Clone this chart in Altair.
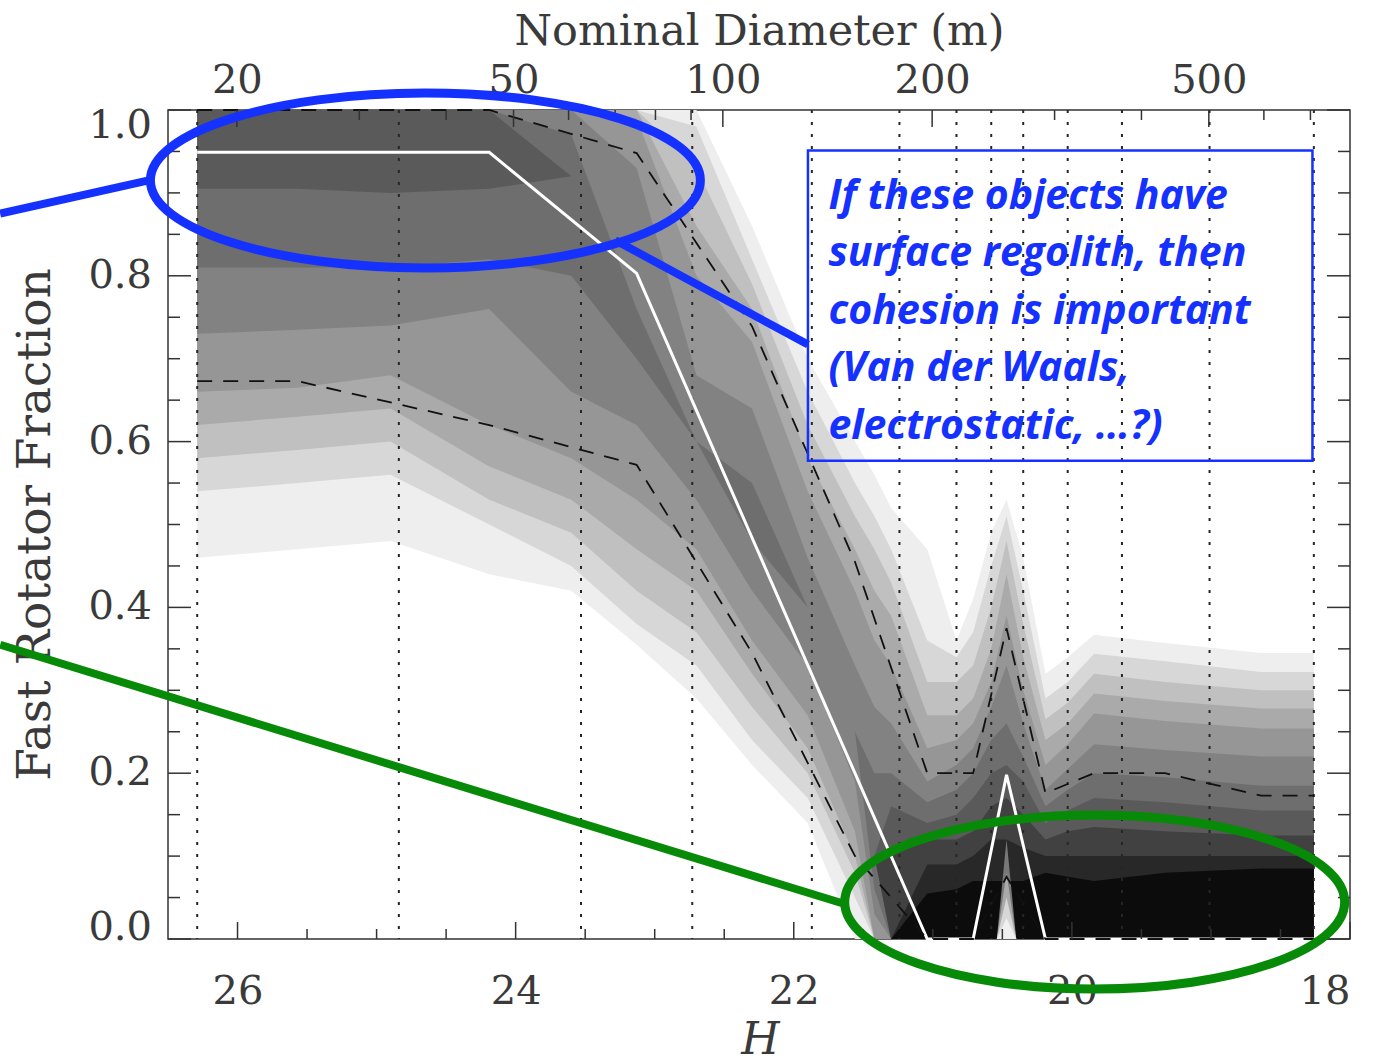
import math
import altair as alt
import pandas as pd

# ---------------- values ----------------
# H nodes at which the shaded density (filled contours) was read
DENS_H = [26.29, 25.57, 24.90, 24.19, 23.60, 23.13, 22.70, 22.30, 21.90, 21.56,
          21.42, 21.30, 21.04, 20.83, 20.71, 20.58, 20.47, 20.35, 20.19, 20.03,
          19.84, 19.33, 18.64, 18.26]

# grey level of each filled contour band (light -> dark)
GRAY_LEVELS = [238, 215, 192, 170, 150, 130, 110, 90, 65, 40, 12]

# lower / upper fraction of the region that is at least this dark, at each node
DENS_LO = {
    238: [.46, .47, .48, .44, .42, .355, .29, .21, .14, 0, 0, 0, 0, 0, 0, 0, 0, 0, 0, 0, 0, 0, 0, 0],
    215: [.54, .55, .56, .50, .45, .38, .33, .24, .17, .05, 0, 0, 0, 0, 0, 0, 0, 0, 0, 0, 0, 0, 0, 0],
    192: [.58, .59, .60, .53, .49, .42, .37, .28, .20, .08, 0, 0, 0, 0, 0, 0, 0, 0, 0, 0, 0, 0, 0, 0],
    170: [.62, .63, .64, .57, .53, .47, .42, .32, .23, .10, 0, 0, 0, 0, 0, 0, 0, 0, 0, 0, 0, 0, 0, 0],
    150: [.66, .665, .68, .62, .58, .53, .47, .36, .27, .13, 0, 0, 0, 0, 0, 0, 0, 0, 0, 0, 0, 0, 0, 0],
    130: [.73, .735, .74, .76, .66, .62, .53, .42, .33, .19, .03, 0, 0, 0, 0, 0, 0, 0, 0, 0, 0, 0, 0, 0],
    110: [.81, .81, .81, .82, .80, .70, .60, .48, .40, .25, .06, 0, 0, 0, 0, 0, 0, 0, 0, 0, 0, 0, 0, 0],
    90:  [.905, .905, .90, .905, .92, .73, .60, .50, .40, .25, .10, 0, 0, 0, 0, 0, 0, 0, 0, 0, 0, 0, 0, 0],
    65:  [0, 0, 0, 0, 0, 0, 0, 0, 0, .25, .10, 0, 0, 0, 0, 0, 0, 0, 0, 0, 0, 0, 0, 0],
    40:  [0, 0, 0, 0, 0, 0, 0, 0, 0, .25, .10, 0, 0, 0, 0, 0, 0, 0, 0, 0, 0, 0, 0, 0],
    12:  [0, 0, 0, 0, 0, 0, 0, 0, 0, .25, .10, 0, 0, 0, 0, 0, 0, 0, 0, 0, 0, 0, 0, 0],
}
DENS_HI = {
    238: [1, 1, 1, 1, 1, 1, 1, .86, .70, .60, .56, .52, .47, .36, .41, .49, .53, .46, .32, .34, .367, .357, .345, .345],
    215: [1, 1, 1, 1, 1, 1, .98, .82, .66, .55, .51, .47, .36, .34, .37, .45, .51, .42, .29, .31, .344, .335, .322, .322],
    192: [1, 1, 1, 1, 1, 1, .93, .79, .62, .51, .47, .43, .31, .31, .33, .40, .48, .38, .265, .285, .32, .31, .30, .30],
    170: [1, 1, 1, 1, 1, 1, .86, .76, .58, .47, .42, .39, .27, .27, .29, .35, .44, .34, .24, .26, .296, .287, .278, .278],
    150: [1, 1, 1, 1, 1, .99, .80, .72, .54, .42, .36, .33, .23, .24, .26, .31, .39, .30, .21, .235, .272, .263, .254, .254],
    130: [1, 1, 1, 1, 1, .93, .68, .64, .46, .33, .28, .26, .19, .21, .23, .28, .33, .26, .18, .205, .235, .228, .22, .22],
    110: [1, 1, 1, 1, .97, .76, .60, .55, .40, .25, .20, .20, .165, .18, .20, .24, .26, .22, .16, .18, .20, .195, .185, .185],
    90:  [1, 1, 1, 1, .92, .73, .60, .50, .40, .25, .10, .16, .14, .15, .17, .20, .21, .19, .14, .155, .17, .165, .155, .155],
    65:  [0, 0, 0, 0, 0, 0, 0, 0, 0, .25, .10, .11, .12, .12, .13, .16, .17, .15, .12, .13, .135, .13, .125, .125],
    40:  [0, 0, 0, 0, 0, 0, 0, 0, 0, .25, .10, 0, .09, .09, .10, .12, .12, .11, .10, .10, .10, .10, .10, .10],
    12:  [0, 0, 0, 0, 0, 0, 0, 0, 0, .25, .10, 0, .055, .06, .07, .07, .07, .07, .08, .075, .07, .08, .085, .085],
}

# light streak at the foot of the narrow spike
STREAK_H = [20.54, 20.47, 20.40]
STREAK_GRAYS = [120, 170, 215, 240]
STREAK_HI = {120: [0, .12, 0], 170: [0, .08, 0], 215: [0, .05, 0], 240: [0, .025, 0]}

# bin edges (dotted lines) and the summary curves at the bin centres
BIN_EDGES_H = [26.29, 24.84, 23.53, 22.73, 21.87, 21.24, 20.83, 20.58, 20.35, 20.03, 19.64, 19.01, 18.26]
CURVE_H = [26.29, 25.57, 24.19, 23.13, 22.30, 21.56, 21.04, 20.71, 20.47, 20.19, 19.84, 19.33, 18.64, 18.26]
MEDIAN = [.949, .949, .949, .803, .484, .20, 0, 0, .198, 0, 0, 0, 0, 0]
UPPER = [1.0, 1.0, 1.0, .948, .739, .455, .20, .20, .375, .176, .20, .20, .173, .173]
LOWER = [.673, .673, .62, .572, .345, .10, 0, 0, .075, 0, 0, 0, 0, 0]

# axes
H_MAJOR = [18, 20, 22, 24, 26]
H_MINOR = [18.5, 19, 19.5, 20.5, 21, 21.5, 22.5, 23, 23.5, 24.5, 25, 25.5]
FRAC_MAJOR = [0.0, 0.2, 0.4, 0.6, 0.8, 1.0]
FRAC_MINOR = [0.05, 0.1, 0.15, 0.25, 0.3, 0.35, 0.45, 0.5, 0.55, 0.65, 0.7, 0.75, 0.85, 0.9, 0.95]
DIAM_MAJOR = [20, 50, 100, 200, 500]
DIAM_MINOR = [30, 40, 60, 70, 80, 90, 300, 400, 600, 700]
ALBEDO = 0.175
Y_TITLE = "Fast Rotator Fraction"

# annotation (in data coordinates: H, fraction)
NOTE_LINES = ["If these objects have", "surface regolith, then", "cohesion is important",
              "(Van der Waals,", "electrostatic, \u2026?)"]
NOTE_AT = {"H": 21.751, "f": 0.8806}
NOTE_BOX = {"h1": 21.898, "h2": 18.27, "f1": 0.951, "f2": 0.577}
BLUE_ELLIPSE = {"H": 24.649, "f": 0.915}
GREEN_ELLIPSE = {"H": 19.836, "f": 0.0446}
BLUE_LEFT = {"H": [27.707, 26.615], "f": [0.875, 0.916]}
BLUE_LINK = {"H": [23.284, 21.898], "f": [0.843, 0.717]}
GREEN_LINK = {"H": [27.707, 21.61], "f": [0.355, 0.041]}

# ---------------- chart ----------------
W, HT = 1182, 829
BLUE = "#1431ff"
GREEN = "#078a07"
TXT = "#3a3a3a"
FONT = "DejaVu Serif"


def h_of_d(d_m):
    return 5 * math.log10(1329e3 / (math.sqrt(ALBEDO) * d_m))


def gray(v):
    return "#%02x%02x%02x" % (v, v, v)


xs = alt.Scale(domain=[26.5, 18.0], nice=False, zero=False)
ys = alt.Scale(domain=[0.0, 1.0], nice=False, zero=False)

bottom_axis = alt.Axis(orient="bottom", values=H_MAJOR, format="d", ticks=False, tickSize=0,
                       domain=False, grid=False,
                       labelFont=FONT, labelFontSize=40, labelColor=TXT, labelPadding=32,
                       title="H", titleFont=FONT, titleFontSize=44, titleFontStyle="italic",
                       titleFontWeight="normal", titleColor=TXT, titleX=592, titleY=101,
                       titleBaseline="middle", titleAlign="center")
top_axis = alt.Axis(orient="top", values=[h_of_d(d) for d in DIAM_MAJOR],
                    labelExpr="format(1329000/sqrt(%g)*pow(10,-datum.value/5), '.0f')" % ALBEDO,
                    ticks=False, tickSize=0, domain=False, grid=False,
                    labelFont=FONT, labelFontSize=40, labelColor=TXT, labelPadding=10,
                    title="Nominal Diameter (m)", titleFont=FONT, titleFontSize=43,
                    titleFontWeight="normal", titleColor=TXT, titleX=591, titleY=-79,
                    titleBaseline="middle", titleAlign="center")

layers = []

# filled density contours
for i, g in enumerate(GRAY_LEVELS):
    df = pd.DataFrame({"H": DENS_H, "lo": DENS_LO[g], "hi": DENS_HI[g]})
    layers.append(
        alt.Chart(df).mark_area(color=gray(g), interpolate="linear").encode(
            x=alt.X("H:Q", scale=xs, axis=bottom_axis if i == 0 else None),
            y=alt.Y("lo:Q", scale=ys, axis=None),
            y2="hi:Q",
        )
    )
for g in STREAK_GRAYS:
    df = pd.DataFrame({"H": STREAK_H, "lo": [0, 0, 0], "hi": STREAK_HI[g]})
    layers.append(
        alt.Chart(df).mark_area(color=gray(g), interpolate="linear").encode(
            x=alt.X("H:Q", scale=xs, axis=None),
            y=alt.Y("lo:Q", scale=ys, axis=None),
            y2="hi:Q",
        )
    )

# dotted bin edges
layers.append(
    alt.Chart(pd.DataFrame({"H": BIN_EDGES_H})).mark_rule(color="#262626", strokeWidth=2, strokeDash=[3, 9]).encode(
        x=alt.X("H:Q", scale=xs, axis=None)
    )
)

curves = pd.DataFrame({"H": CURVE_H, "med": MEDIAN, "up": UPPER, "low": LOWER})
layers.append(
    alt.Chart(curves).mark_line(color="white", strokeWidth=3).encode(
        x=alt.X("H:Q", scale=xs, axis=None), y=alt.Y("med:Q", scale=ys, axis=None)
    )
)
for col in ["up", "low"]:
    layers.append(
        alt.Chart(curves).mark_line(color="#111111", strokeWidth=1.8, strokeDash=[15, 11]).encode(
            x=alt.X("H:Q", scale=xs, axis=None), y=alt.Y(col + ":Q", scale=ys, axis=None)
        )
    )

# inward tick marks (IDL box style)
TICK = "#333333"
for vals, length in [(FRAC_MAJOR, 23), (FRAC_MINOR, 12)]:
    df = pd.DataFrame({"v": vals})
    layers.append(alt.Chart(df).mark_rule(color=TICK, strokeWidth=1.5).encode(
        y=alt.Y("v:Q", scale=ys, axis=None), x=alt.value(0), x2=alt.value(length)))
    layers.append(alt.Chart(df).mark_rule(color=TICK, strokeWidth=1.5).encode(
        y=alt.Y("v:Q", scale=ys, axis=None), x=alt.value(W), x2=alt.value(W - length)))
for vals, length in [(H_MAJOR, 17), (H_MINOR, 10)]:
    df = pd.DataFrame({"v": vals})
    layers.append(alt.Chart(df).mark_rule(color=TICK, strokeWidth=1.5).encode(
        x=alt.X("v:Q", scale=xs, axis=None), y=alt.value(HT), y2=alt.value(HT - length)))
top_major = pd.DataFrame({"H": [h_of_d(d) for d in DIAM_MAJOR]})
top_minor = pd.DataFrame({"H": [h_of_d(d) for d in DIAM_MINOR]})
layers.append(alt.Chart(top_major).mark_rule(color=TICK, strokeWidth=1.5).encode(
    x=alt.X("H:Q", scale=xs, axis=top_axis), y=alt.value(0), y2=alt.value(17)))
layers.append(alt.Chart(top_minor).mark_rule(color=TICK, strokeWidth=1.5).encode(
    x=alt.X("H:Q", scale=xs, axis=None), y=alt.value(0), y2=alt.value(10)))

# left axis labels (IDL style: end labels nudged inside the frame) and title
ylab = pd.DataFrame({"v": FRAC_MAJOR, "t": ["%.1f" % v for v in FRAC_MAJOR]})
for sel, shift in [((ylab.v > 0) & (ylab.v < 1), 0), (ylab.v == 1, 16), (ylab.v == 0, -11)]:
    layers.append(
        alt.Chart(ylab[sel]).mark_text(align="right", baseline="middle", dy=shift, font=FONT,
                                       fontSize=40, color=TXT).encode(
            y=alt.Y("v:Q", scale=ys, axis=None), x=alt.value(-16), text="t:N"
        )
    )
layers.append(
    alt.Chart(pd.DataFrame({"t": [Y_TITLE]})).mark_text(
        align="center", baseline="middle", angle=270, font=FONT, fontSize=47, color=TXT
    ).encode(x=alt.value(-132), y=alt.value(HT / 2), text="t:N")
)

# annotation box and text
layers.append(
    alt.Chart(pd.DataFrame([NOTE_BOX])).mark_rect(fillOpacity=0, stroke=BLUE, strokeWidth=2.5).encode(
        x=alt.X("h1:Q", scale=xs, axis=None), x2="h2:Q",
        y=alt.Y("f1:Q", scale=ys, axis=None), y2="f2:Q",
    )
)
layers.append(
    alt.Chart(pd.DataFrame([NOTE_AT])).mark_text(
        align="left", baseline="alphabetic", font="Open Sans", fontSize=41, fontStyle="italic",
        fontWeight="bold", color=BLUE, lineHeight=57.5,
    ).encode(
        x=alt.X("H:Q", scale=xs, axis=None), y=alt.Y("f:Q", scale=ys, axis=None),
        text=alt.value(NOTE_LINES),
    )
)

# connector lines
for seg, col, w in [(BLUE_LEFT, BLUE, 8), (BLUE_LINK, BLUE, 8), (GREEN_LINK, GREEN, 8)]:
    layers.append(
        alt.Chart(pd.DataFrame(seg)).mark_line(color=col, strokeWidth=w).encode(
            x=alt.X("H:Q", scale=xs, axis=None), y=alt.Y("f:Q", scale=ys, axis=None)
        )
    )

# highlight ellipses
for ell, col, ratio, rx in [(BLUE_ELLIPSE, BLUE, 0.318, 275), (GREEN_ELLIPSE, GREEN, 0.348, 250)]:
    path = "M -1 0 A 1 %g 0 1 1 1 0 A 1 %g 0 1 1 -1 0 Z" % (ratio, ratio)
    layers.append(
        alt.Chart(pd.DataFrame([ell])).mark_point(
            shape=path, size=(2 * rx) ** 2, filled=False, stroke=col, strokeWidth=9, opacity=1,
        ).encode(x=alt.X("H:Q", scale=xs, axis=None), y=alt.Y("f:Q", scale=ys, axis=None))
    )

chart = (
    alt.layer(*layers)
    .resolve_axis(x="independent")
    .properties(
        width=W, height=HT, background="white",
        padding={"left": 168, "top": 110, "right": 33, "bottom": 123},
        autosize=alt.AutoSizeParams(type="none"),
    )
    .configure_view(stroke="#333333", strokeWidth=1.5)
)

chart.save("out.html", embed_options={"renderer": "svg", "actions": False})
